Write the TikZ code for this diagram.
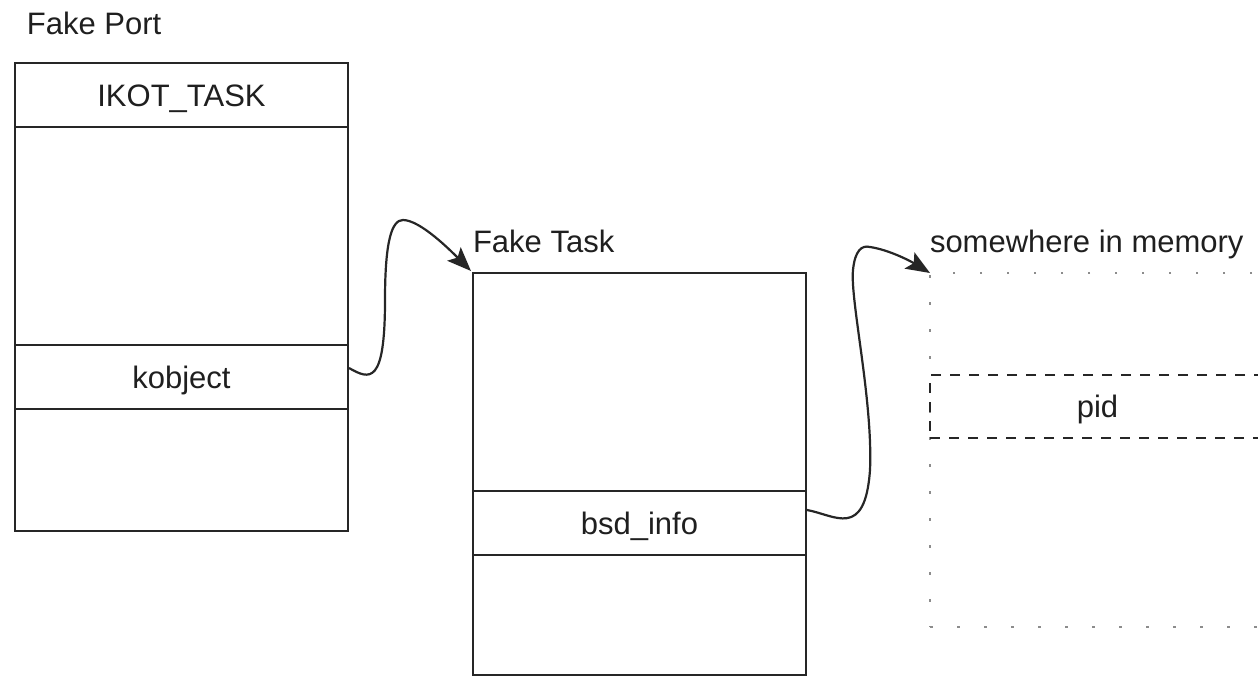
\documentclass[tikz,border=0pt]{standalone}
\usepackage{fontspec}
\setmainfont{Liberation Sans}
\usetikzlibrary{arrows.meta,calc}
\begin{document}
\begin{tikzpicture}[x=1pt,y=-1pt,
  every node/.style={font=\fontsize{31}{37}\selectfont, inner sep=0pt, outer sep=0pt, text=black!88},
  cell/.style={draw=black!85, line width=2.3pt, anchor=north west, text height=22pt, text depth=0pt, minimum width=333pt},
  title/.style={anchor=base west},
  link/.style={draw=black!85, line width=2.2pt, -{Stealth[length=24pt,width=19pt,inset=5pt]}},
  memcell/.style={draw=black!45, line width=1.6pt, dash pattern=on 2.5pt off 24.5pt, anchor=north west, minimum width=335pt},
  pidcell/.style={draw=black!85, line width=2.3pt, dash pattern=on 10pt off 9pt, anchor=north west, text height=22pt, text depth=0pt, minimum width=335pt}]
\useasboundingbox (0,0) rectangle (1258,677);
\clip (0,0) rectangle (1258,677);
% titles
\node[title] (tport) at (27,35) {Fake Port};
\node[title] (ttask) at (473,252) {Fake Task};
\node[title] (tmem) at (930,252) {somewhere in memory};
% Fake Port
\node[cell, minimum height=64pt] (ikot) at (15,63) {IKOT\_TASK};
\node[cell, minimum height=218pt] (portmid) at (15,127) {};
\node[cell, minimum height=64pt] (kobj) at (15,345) {kobject};
\node[cell, minimum height=122pt] (portbot) at (15,409) {};
% Fake Task
\node[cell, minimum height=218pt] (taskmid) at (473,273) {};
\node[cell, minimum height=64pt] (bsd) at (473,491) {bsd\_info};
\node[cell, minimum height=120pt] (taskbot) at (473,555) {};
% memory
\node[memcell, minimum height=354pt] (mem) at (930,273) {};
\node[pidcell, minimum height=63pt] (pid) at (930,375) {pid};
% connectors
\draw[link] ($(kobj.east)+(1,-9)$) .. controls (370,380) and (385,385) .. (385,300)
  .. controls (385,240) and (392,220) .. (403,220)
  .. controls (420,220) and (450,250) .. ($(taskmid.north west)+(-2,-2)$);
\draw[link] ($(bsd.east)+(1,-13)$) .. controls (835,515) and (865,540) .. (870,470)
  .. controls (873,400) and (850,300) .. (853,270)
  .. controls (855,250) and (862,245) .. (870,247)
  .. controls (890,250) and (912,262) .. (mem.north west);
\end{tikzpicture}
\end{document}
